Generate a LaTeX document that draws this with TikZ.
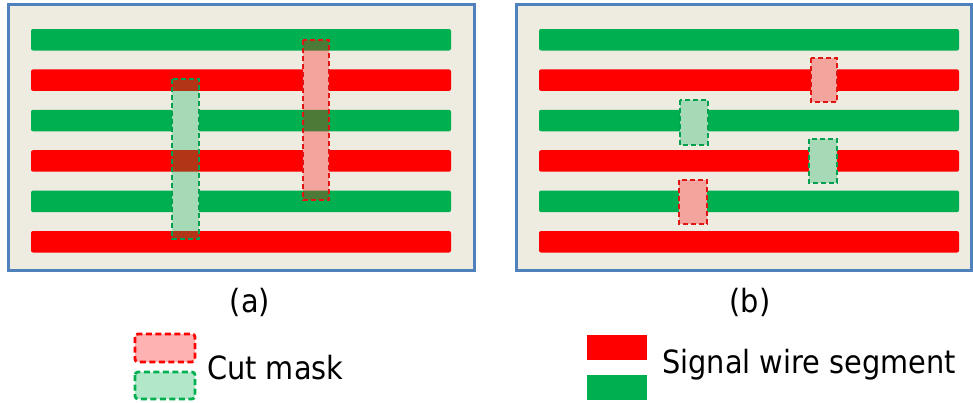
\documentclass[tikz,border=0pt]{standalone}
\usepackage{fontspec}
\newfontfamily\lblfont{DejaVu Sans}[FakeStretch=0.9]
\definecolor{panelbg}{RGB}{238,236,225}
\definecolor{panelline}{RGB}{79,129,189}
\definecolor{wred}{RGB}{255,0,0}
\definecolor{wgreen}{RGB}{0,176,80}
\definecolor{mred}{RGB}{225,20,20}
\definecolor{mgreen}{RGB}{0,160,80}
\tikzset{
  panel/.style={draw=panelline, line width=3pt, fill=panelbg},
  redwire/.style={fill=wred, rounded corners=2pt},
  greenwire/.style={fill=wgreen, rounded corners=2pt},
  cutgap/.style={fill=panelbg},
  redmask/.style={fill=wred, fill opacity=0.3, draw=mred, line width=1.6pt, dash pattern=on 5pt off 3pt},
  greenmask/.style={fill=wgreen, fill opacity=0.3, draw=mgreen, line width=1.6pt, dash pattern=on 5pt off 3pt},
  legredmask/.style={fill=wred, fill opacity=0.3, draw=wred, line width=2.8pt, dash pattern=on 6pt off 3.5pt, rounded corners=3pt},
  leggreenmask/.style={fill=wgreen, fill opacity=0.3, draw=wgreen, line width=2.8pt, dash pattern=on 6pt off 3.5pt, rounded corners=3pt},
  lbl/.style={font=\lblfont\fontsize{32}{38}\selectfont, inner sep=0pt}
}
\begin{document}
\begin{tikzpicture}[x=1pt,y=-1pt]
\useasboundingbox (0,0) rectangle (973,402);
% rows: tops
\def\rA{29}\def\rB{69.4}\def\rC{109.8}\def\rD{150.2}\def\rE{190.6}\def\rF{231}
\def\wh{21.5}
% ---------- panel (a)
\draw[panel] (8,4) rectangle (474,270);
\foreach \t/\s in {\rA/greenwire,\rB/redwire,\rC/greenwire,\rD/redwire,\rE/greenwire,\rF/redwire}
  \fill[\s] (31,\t) rectangle (451,\t+\wh);
% cuts in (a)
\foreach \t in {\rB,\rD} \fill[cutgap] (303,\t-0.5) rectangle (329,\t+\wh+0.5);
\foreach \t in {\rC,\rE} \fill[cutgap] (172,\t-0.5) rectangle (199,\t+\wh+0.5);
\draw[redmask] (303,40) rectangle (329,200);
\draw[greenmask] (172,79) rectangle (199,239);
% ---------- panel (b)
\draw[panel] (516,4) rectangle (971,270);
\foreach \t/\s in {\rA/greenwire,\rB/redwire,\rC/greenwire,\rD/redwire,\rE/greenwire,\rF/redwire}
  \fill[\s] (539,\t) rectangle (959,\t+\wh);
\fill[cutgap] (811,\rB-0.5) rectangle (837,\rB+\wh+0.5);
\fill[cutgap] (680,\rC-0.5) rectangle (708,\rC+\wh+0.5);
\fill[cutgap] (809,\rD-0.5) rectangle (837,\rD+\wh+0.5);
\fill[cutgap] (679,\rE-0.5) rectangle (707,\rE+\wh+0.5);
\draw[redmask] (811,58) rectangle (837,102);
\draw[greenmask] (680,100) rectangle (708,145);
\draw[greenmask] (809,139) rectangle (837,183);
\draw[redmask] (679,180) rectangle (707,224);
% ---------- labels
\node[lbl] (la) at (250,302) {(a)};
\node[lbl] (lb) at (750,302) {(b)};
% ---------- legend
\draw[legredmask] (135,334) rectangle (195,362);
\draw[leggreenmask] (135,372) rectangle (195,399);
\node[lbl, anchor=base west] (cm) at (207,379) {Cut mask};
\fill[wred] (587,335) rectangle (647,360);
\fill[wgreen] (587,375) rectangle (647,400);
\node[lbl, anchor=base west] (sw) at (662,373) {Signal wire segment};
\end{tikzpicture}
\end{document}
